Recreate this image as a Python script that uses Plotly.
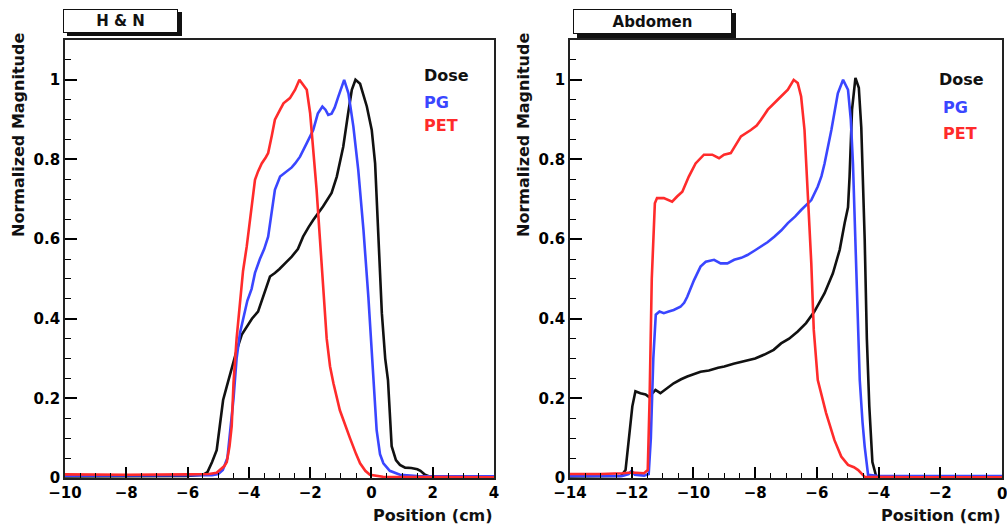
import plotly.graph_objects as go

W, H = 1007, 526

# ---------------- data ----------------
hn_dose_x = [-10, -8, -6, -5.5, -5.35, -5.2, -5.05, -4.95, -4.84, -4.72, -4.6, -4.4, -4.23, -4.07, -3.9, -3.7,
             -3.58, -3.42, -3.31, -3.15, -3.0, -2.77, -2.6, -2.4, -2.23, -2.05, -1.9, -1.58, -1.3, -1.13, -1.0,
             -0.92, -0.76, -0.64, -0.52, -0.37, -0.15, 0.01, 0.12, 0.22, 0.34, 0.45, 0.54, 0.66, 0.8, 0.93, 1.1,
             1.3, 1.5, 1.6, 1.75, 1.91, 3, 4]
hn_dose_y = [0.004, 0.004, 0.005, 0.008, 0.015, 0.04, 0.07, 0.13, 0.196, 0.23, 0.265, 0.32, 0.36, 0.38, 0.40,
             0.418, 0.447, 0.48, 0.506, 0.515, 0.525, 0.543, 0.556, 0.575, 0.606, 0.63, 0.648, 0.682, 0.716,
             0.757, 0.8, 0.832, 0.916, 0.975, 1.0, 0.99, 0.933, 0.874, 0.79, 0.62, 0.414, 0.3, 0.246, 0.08,
             0.045, 0.033, 0.026, 0.025, 0.022, 0.018, 0.008, 0.003, 0.002, 0.002]

hn_pg_x = [-10, -8, -6, -5.2, -5.0, -4.85, -4.7, -4.6, -4.5, -4.45, -4.4, -4.29, -4.19, -4.05, -3.91, -3.8,
           -3.64, -3.5, -3.37, -3.25, -3.15, -2.98, -2.77, -2.6, -2.49, -2.33, -2.11, -1.9, -1.75, -1.6, -1.5,
           -1.41, -1.3, -1.2, -1.08, -0.89, -0.75, -0.59, -0.43, -0.26, -0.1, 0.0, 0.06, 0.17, 0.28, 0.39,
           0.6, 0.93, 1.5, 4]
hn_pg_y = [0.006, 0.006, 0.006, 0.007, 0.01, 0.02, 0.05, 0.12, 0.2, 0.25, 0.3, 0.364, 0.4, 0.445, 0.475, 0.515,
           0.55, 0.575, 0.606, 0.67, 0.724, 0.757, 0.77, 0.78, 0.79, 0.807, 0.841, 0.874, 0.915, 0.933, 0.925,
           0.912, 0.915, 0.93, 0.958, 1.0, 0.966, 0.883, 0.774, 0.623, 0.455, 0.33, 0.246, 0.12, 0.06, 0.037,
           0.018, 0.008, 0.005, 0.004]

hn_pet_x = [-10, -8, -6, -5.3, -5.05, -4.9, -4.8, -4.72, -4.63, -4.56, -4.5, -4.4, -4.29, -4.19, -4.07, -3.95,
            -3.8, -3.7, -3.58, -3.45, -3.37, -3.25, -3.15, -2.98, -2.87, -2.66, -2.49, -2.35, -2.22, -2.11,
            -2.0, -1.9, -1.79, -1.68, -1.57, -1.46, -1.35, -1.24, -1.03, -0.85, -0.7, -0.5, -0.37, -0.2,
            -0.05, 0.38, 4]
hn_pet_y = [0.009, 0.008, 0.009, 0.01, 0.013, 0.022, 0.03, 0.04, 0.08, 0.13, 0.24, 0.35, 0.447, 0.52, 0.581,
            0.66, 0.749, 0.77, 0.79, 0.805, 0.816, 0.86, 0.9, 0.925, 0.941, 0.954, 0.975, 1.0, 0.987, 0.975,
            0.916, 0.832, 0.724, 0.6, 0.47, 0.35, 0.28, 0.238, 0.17, 0.13, 0.1, 0.06, 0.037, 0.018, 0.008,
            0.003, 0.002]

ab_dose_x = [-14, -13, -12.35, -12.2, -12.1, -11.98, -11.88, -11.72, -11.55, -11.45, -11.3, -11.23, -11.07,
             -10.9, -10.64, -10.4, -10.2, -9.77, -9.5, -9.2, -9.0, -8.7, -8.4, -8.0, -7.7, -7.4, -7.16, -6.9,
             -6.62, -6.35, -6.08, -5.75, -5.48, -5.26, -5.1, -4.99, -4.94, -4.86, -4.75, -4.64, -4.56, -4.45,
             -4.38, -4.3, -4.2, -4.08, -3, 0]
ab_dose_y = [0.004, 0.004, 0.005, 0.02, 0.1, 0.18, 0.218, 0.213, 0.21, 0.204, 0.215, 0.221, 0.213, 0.222,
             0.238, 0.248, 0.255, 0.267, 0.27, 0.277, 0.28, 0.287, 0.293, 0.30, 0.31, 0.322, 0.338, 0.35,
             0.368, 0.389, 0.418, 0.464, 0.514, 0.573, 0.64, 0.68, 0.757, 0.925, 1.005, 0.98, 0.88, 0.6,
             0.35, 0.18, 0.04, 0.005, 0.003, 0.003]

ab_pg_x = [-14, -12.3, -12.1, -12.0, -11.9, -11.6, -11.45, -11.38, -11.3, -11.22, -11.1, -10.96, -10.8, -10.64,
           -10.42, -10.3, -10.2, -9.98, -9.77, -9.6, -9.33, -9.12, -8.9, -8.68, -8.45, -8.25, -8.0, -7.81,
           -7.6, -7.38, -7.15, -6.94, -6.7, -6.51, -6.3, -6.18, -5.97, -5.85, -5.75, -5.53, -5.32, -5.15,
           -4.99, -4.9, -4.83, -4.75, -4.66, -4.61, -4.52, -4.45, -4.34, -4, 0]
ab_pg_y = [0.005, 0.005, 0.01, 0.018, 0.008, 0.006, 0.01, 0.1, 0.3, 0.41, 0.418, 0.414, 0.418, 0.422, 0.43,
           0.44, 0.455, 0.497, 0.531, 0.543, 0.548, 0.539, 0.539, 0.548, 0.553, 0.56, 0.572, 0.581, 0.592,
           0.606, 0.622, 0.64, 0.657, 0.673, 0.69, 0.698, 0.732, 0.758, 0.79, 0.874, 0.966, 1.0, 0.975, 0.9,
           0.79, 0.6, 0.372, 0.246, 0.14, 0.079, 0.008, 0.005, 0.005]

ab_pet_x = [-14, -13, -12.3, -12.0, -11.6, -11.48, -11.42, -11.35, -11.25, -11.18, -10.96, -10.8, -10.69,
            -10.53, -10.36, -10.15, -9.93, -9.66, -9.39, -9.17, -9.01, -8.79, -8.6, -8.46, -8.14, -7.95,
            -7.81, -7.59, -7.27, -6.94, -6.75, -6.62, -6.51, -6.4, -6.29, -6.18, -6.1, -5.97, -5.7, -5.43,
            -5.21, -4.99, -4.8, -4.66, -4.45, -3, 0]
ab_pet_y = [0.01, 0.01, 0.012, 0.014, 0.012, 0.02, 0.2, 0.5, 0.69, 0.703, 0.703, 0.697, 0.694, 0.707, 0.719,
            0.757, 0.79, 0.812, 0.812, 0.803, 0.812, 0.816, 0.84, 0.858, 0.874, 0.885, 0.9, 0.925, 0.95,
            0.975, 1.0, 0.992, 0.958, 0.874, 0.707, 0.539, 0.372, 0.246, 0.163, 0.095, 0.054, 0.033, 0.027,
            0.02, 0.003, 0.002, 0.002]

y_ticks = [0, 0.2, 0.4, 0.6, 0.8, 1]
y_tick_labels = ["0", "0.2", "0.4", "0.6", "0.8", "1"]
panel_titles = ["H & N", "Abdomen"]
series_names = ["Dose", "PG", "PET"]

# ---------------- styling ----------------
FONT = "DejaVu Sans"
C_DOSE, C_PG, C_PET = "#111111", "#3a46ff", "#ff2b2b"
colors = [C_DOSE, C_PG, C_PET]


def px(x):
    return x / W


def py(y):
    return 1 - y / H


# plot areas in pixels
L = dict(x0=65, x1=494, y0=40, y1=478)
R = dict(x0=570, x1=1002, y0=40, y1=478)

fig = go.Figure()
lw = 2.6
for xs, ys, c in [(hn_dose_x, hn_dose_y, C_DOSE), (hn_pg_x, hn_pg_y, C_PG), (hn_pet_x, hn_pet_y, C_PET)]:
    fig.add_trace(go.Scatter(x=xs, y=ys, mode="lines", line=dict(color=c, width=lw), xaxis="x", yaxis="y"))
for xs, ys, c in [(ab_dose_x, ab_dose_y, C_DOSE), (ab_pg_x, ab_pg_y, C_PG), (ab_pet_x, ab_pet_y, C_PET)]:
    fig.add_trace(go.Scatter(x=xs, y=ys, mode="lines", line=dict(color=c, width=lw), xaxis="x2", yaxis="y2"))

tf = dict(family=FONT, size=15, color="black", weight="bold")
base = dict(automargin=False, ticks="inside", tickwidth=1.5, tickcolor="black", showline=True,
            linecolor="#222", linewidth=1.6, mirror=True, showgrid=False, zeroline=False, tickfont=tf)


def xaxis(rng, dom, anchor):
    a = dict(base)
    a.update(range=rng, domain=dom, anchor=anchor, dtick=2, tick0=0, ticklen=11,
             minor=dict(dtick=0.5, tick0=0, ticks="inside", ticklen=5, tickwidth=1.3, tickcolor="black"))
    return a


def yaxis(dom, anchor):
    a = dict(base)
    a.update(range=[0, 1.1], domain=dom, anchor=anchor, tickvals=y_ticks, ticktext=y_tick_labels,
             ticklen=12, minor=dict(dtick=0.05, ticks="inside", ticklen=6, tickwidth=1.3, tickcolor="black"))
    return a


fig.update_layout(
    width=W, height=H, margin=dict(l=0, r=0, t=0, b=0), showlegend=False,
    paper_bgcolor="white", plot_bgcolor="white",
    xaxis=xaxis([-10, 4], [px(L["x0"]), px(L["x1"])], "y"),
    yaxis=yaxis([py(L["y1"]), py(L["y0"])], "x"),
    xaxis2=xaxis([-14, 0], [px(R["x0"]), px(R["x1"])], "y2"),
    yaxis2=yaxis([py(R["y1"]), py(R["y0"])], "x2"),
)

# the right panel's last x label ("0") sits at the paper edge: add it as text
fig.add_annotation(xref="x2", yref="paper", x=0, y=py(494), text="<b>0</b>", showarrow=False,
                   xanchor="center", yanchor="middle", font=dict(family=FONT, size=15, color="black"))

# title boxes with drop shadow, built from annotations
for (bx0, bx1, by0, by1), title in zip([(63, 178, 9, 33), (573, 732, 9, 34)], panel_titles):
    cx, cy = (bx0 + bx1) / 2, (by0 + by1) / 2
    bw, bh = bx1 - bx0 - 2, by1 - by0 - 2
    fig.add_annotation(xref="paper", yref="paper", x=px(cx + 3.5), y=py(cy + 3.5), text=" ",
                       showarrow=False, xanchor="center", yanchor="middle", width=bw, height=bh,
                       bgcolor="#111", bordercolor="#111", borderwidth=1, borderpad=0)
    fig.add_annotation(xref="paper", yref="paper", x=px(cx), y=py(cy), text="<b>" + title.replace("&", "&amp;") + "</b>",
                       showarrow=False, xanchor="center", yanchor="middle", width=bw, height=bh,
                       bgcolor="white", bordercolor="#111", borderwidth=1, borderpad=0,
                       font=dict(family=FONT, size=15, color="#111"))

# axis titles
for p, tx in [(L, 18), (R, 523)]:
    fig.add_annotation(xref="paper", yref="paper", x=px(tx), y=py(31), text="<b>Normalized Magnitude</b>",
                       textangle=-90, showarrow=False, xanchor="center", yanchor="top",
                       font=dict(family=FONT, size=16, color="#111"))
    fig.add_annotation(xref="paper", yref="paper", x=px(p["x1"] + 1), y=py(515), text="<b>Position (cm)</b>",
                       showarrow=False, xanchor="right", yanchor="middle",
                       font=dict(family=FONT, size=16, color="#111"))

# in-plot legend labels
for lx, ys in [(422, [75, 102, 126]), (937, [80, 107, 133])]:
    for i, (name, c, yy) in enumerate(zip(series_names, colors, ys)):
        x_off = 0 if (i == 0 or lx == 422) else 4
        fig.add_annotation(xref="paper", yref="paper", x=px(lx + x_off), y=py(yy), text="<b>" + name + "</b>",
                           showarrow=False, xanchor="left", yanchor="middle",
                           font=dict(family=FONT, size=16, color=c))

fig.write_html("out.html")
